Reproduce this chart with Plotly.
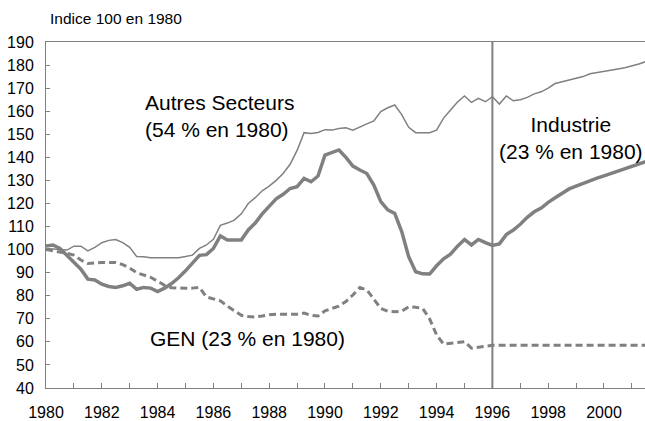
import plotly.graph_objects as go

# ---------------- data (quarterly, 1980Q1 .. 2001Q3) ----------------
START_YEAR = 1980
AUTRES = [
    100.5, 100.2, 99.8, 99.8,
    101.5, 101.5, 99.4, 101.0,
    103.0, 104.0, 104.4, 103.0,
    101.0, 97.0, 96.9, 96.5,
    96.5, 96.5, 96.5, 96.5,
    97.0, 97.6, 100.5, 102.0,
    104.5, 110.5, 111.5, 112.8,
    115.5, 120.0, 122.5, 125.5,
    127.5, 130.0, 133.0, 137.0,
    143.0, 150.7, 150.3, 150.8,
    152.0, 151.8, 152.5, 152.8,
    151.8, 153.0, 154.5, 155.8,
    159.8, 161.5, 162.7, 158.5,
    153.0, 150.7, 150.7, 150.7,
    151.8, 157.0, 160.5, 164.0,
    166.6, 163.8, 165.6, 164.1,
    166.3, 163.1, 166.6, 164.5,
    165.0, 166.0, 167.5, 168.4,
    170.0, 172.0, 172.8, 173.5,
    174.2, 175.0, 176.2, 176.8,
    177.3, 177.8, 178.3, 178.8,
    179.5, 180.5, 181.5,
]
INDUSTRIE = [
    101.5, 102.0, 100.5, 97.5,
    94.5, 91.5, 87.2, 86.8,
    85.0, 84.0, 83.6, 84.3,
    85.4, 82.8, 83.6, 83.3,
    81.8, 83.3, 85.3, 87.8,
    90.8, 94.0, 97.5, 97.8,
    100.5, 105.9, 104.2, 104.2,
    104.2, 108.5, 111.5, 115.5,
    119.0, 122.0, 124.0, 126.5,
    127.3, 130.9, 129.4, 131.9,
    141.0, 142.0, 143.2, 140.0,
    136.2, 134.5, 133.0, 128.0,
    120.8, 117.2, 115.7, 107.8,
    96.9, 90.4, 89.5, 89.4,
    93.0, 96.0, 98.0, 101.5,
    104.4, 102.0, 104.4, 103.0,
    101.8, 102.5, 106.5, 108.5,
    111.0, 114.0, 116.4, 118.0,
    120.5, 122.5, 124.5, 126.3,
    127.5, 128.8, 130.0, 131.0,
    132.0, 133.0, 134.0, 135.0,
    136.3, 137.3, 138.2,
]
GEN = [
    100.0, 99.5, 99.0, 98.4,
    97.6, 95.5, 94.0, 94.3,
    94.4, 94.4, 94.4, 93.5,
    92.0, 90.0, 89.0, 88.0,
    86.3, 84.5, 83.5, 83.2,
    83.2, 83.3, 83.6, 79.5,
    78.5, 77.8, 75.5, 73.5,
    71.5, 71.0, 70.8, 71.2,
    71.8, 72.0, 72.0, 72.0,
    72.0, 72.5, 71.5, 71.2,
    73.5, 74.5, 75.5, 77.5,
    80.3, 83.6, 82.5, 78.5,
    74.5, 73.3, 73.1, 73.3,
    75.2, 75.0, 74.5, 70.0,
    63.0, 59.0, 59.3, 59.6,
    60.1, 57.3, 57.8, 58.3,
    58.5, 58.5, 58.5, 58.5,
    58.5, 58.5, 58.5, 58.5,
    58.5, 58.5, 58.5, 58.5,
    58.5, 58.5, 58.5, 58.5,
    58.5, 58.5, 58.5, 58.5,
    58.5, 58.5, 58.5,
]
QUARTERS = [START_YEAR + i / 4 for i in range(len(AUTRES))]
BREAK_YEAR = 1996
X_TICKS = list(range(1980, 2001, 2))
Y_TICKS = list(range(40, 191, 10))

LABEL_TITLE = "Indice 100 en 1980"
LABEL_AUTRES = "Autres Secteurs<br>(54 % en 1980)"
LABEL_INDUSTRIE = "Industrie<br>(23 % en 1980)"
LABEL_GEN = "GEN (23 % en 1980)"

# ---------------- figure ----------------
GRAY = "#808080"
FONT = "Liberation Sans, Arial, sans-serif"

fig = go.Figure()
fig.add_trace(go.Scatter(x=QUARTERS, y=GEN, mode="lines",
                         line=dict(color=GRAY, width=3, dash="7px,4px"),
                         name="GEN"))
fig.add_trace(go.Scatter(x=QUARTERS, y=AUTRES, mode="lines",
                         line=dict(color=GRAY, width=1.5),
                         name="Autres Secteurs"))
fig.add_trace(go.Scatter(x=QUARTERS, y=INDUSTRIE, mode="lines",
                         line=dict(color=GRAY, width=3.5),
                         name="Industrie"))

fig.add_shape(type="line", xref="x", yref="paper", x0=BREAK_YEAR, x1=BREAK_YEAR,
              y0=0, y1=1, line=dict(color=GRAY, width=2))

fig.add_annotation(text=LABEL_TITLE, xref="paper", yref="paper", x=0.003, y=1.069,
                   xanchor="left", yanchor="middle", showarrow=False,
                   font=dict(size=15.5, color="black", family=FONT))
fig.add_annotation(text=LABEL_AUTRES, xref="paper", yref="paper", x=0.162, y=0.786,
                   xanchor="left", yanchor="middle", align="left", showarrow=False,
                   font=dict(size=21, color="black", family=FONT))
fig.add_annotation(text=LABEL_INDUSTRIE, xref="paper", yref="paper", x=0.877, y=0.722,
                   xanchor="center", yanchor="middle", align="center", showarrow=False,
                   font=dict(size=21, color="black", family=FONT))
fig.add_annotation(text=LABEL_GEN, xref="paper", yref="paper", x=0.170, y=0.1436,
                   xanchor="left", yanchor="middle", align="left", showarrow=False,
                   font=dict(size=21, color="black", family=FONT))

fig.update_layout(
    width=645, height=421,
    margin=dict(l=46, r=0, t=42, b=33, pad=0, autoexpand=False),
    paper_bgcolor="white", plot_bgcolor="white",
    showlegend=False,
    font=dict(family=FONT, color="black", size=16),
)
fig.update_xaxes(
    range=[1980, 2001.47], tickvals=X_TICKS, ticktext=[str(v) for v in X_TICKS],
    ticks="inside", ticklen=5, tickcolor=GRAY, tickwidth=1,
    minor=dict(ticks="inside", dtick=1, tick0=1980, ticklen=5, tickcolor=GRAY, tickwidth=1),
    showline=True, linecolor=GRAY, linewidth=1, mirror=True,
    showgrid=False, zeroline=False, ticklabelstandoff=10, automargin=False,
    tickfont=dict(size=16, family=FONT, color="black"),
)
fig.update_yaxes(
    range=[40, 190], tickvals=Y_TICKS,
    ticks="inside", ticklen=4, tickcolor=GRAY, tickwidth=1,
    showline=True, linecolor=GRAY, linewidth=1,
    showgrid=False, zeroline=False, ticklabelstandoff=8, automargin=False,
    tickfont=dict(size=16, family=FONT, color="black"),
)

fig.write_html(
    "out.html",
    config={"displayModeBar": False},
    post_script="document.body.style.margin='0';document.body.style.padding='0';",
)
